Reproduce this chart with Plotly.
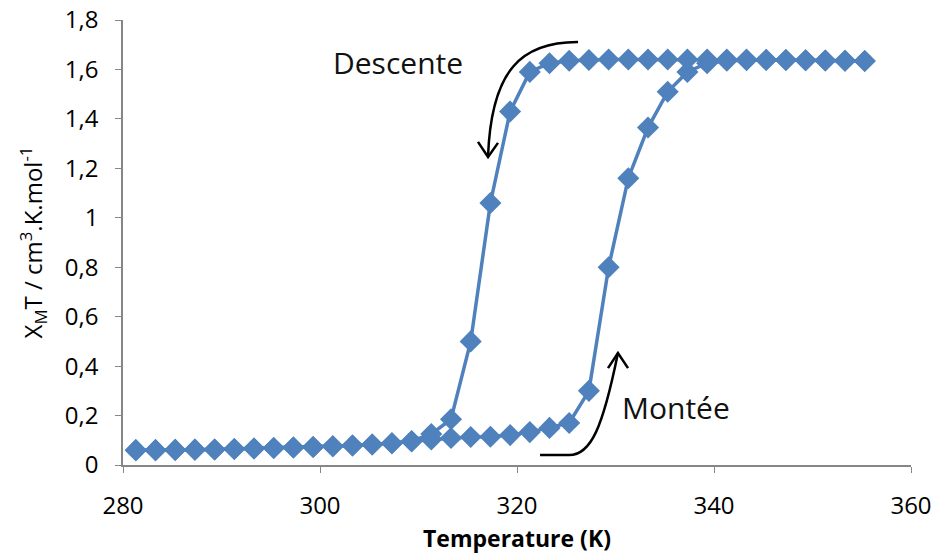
import plotly.graph_objects as go

# ---- data ----
temperature_K = [281.3 + 2 * i for i in range(38)]  # 281.3 ... 355.3

heating_chiMT = [0.060, 0.060, 0.061, 0.062, 0.063, 0.065, 0.067, 0.069, 0.071, 0.073,
                 0.076, 0.079, 0.083, 0.088, 0.095, 0.103, 0.109, 0.113, 0.114, 0.121,
                 0.133, 0.150, 0.170, 0.300, 0.800, 1.160, 1.365, 1.510, 1.590, 1.625,
                 1.635, 1.637, 1.638, 1.638, 1.637, 1.636, 1.635, 1.634]

cooling_chiMT = [0.060, 0.060, 0.061, 0.062, 0.063, 0.065, 0.067, 0.069, 0.071, 0.073,
                 0.076, 0.079, 0.083, 0.088, 0.097, 0.125, 0.185, 0.500, 1.060, 1.430,
                 1.590, 1.625, 1.635, 1.638, 1.640, 1.640, 1.640, 1.640, 1.640, 1.640,
                 1.640, 1.640, 1.639, 1.638, 1.637, 1.636, 1.635, 1.634]

x_ticks = [280, 300, 320, 340, 360]
y_ticks = [0, 0.2, 0.4, 0.6, 0.8, 1.0, 1.2, 1.4, 1.6, 1.8]
y_ticktext = ["0", "0,2", "0,4", "0,6", "0,8", "1", "1,2", "1,4", "1,6", "1,8"]

BLUE = "#4F81BD"
FONT = "Open Sans"

fig = go.Figure()
for name, vals in [("Montée", heating_chiMT), ("Descente", cooling_chiMT)]:
    fig.add_trace(go.Scatter(
        x=temperature_K, y=vals, mode="lines+markers", name=name,
        line=dict(color=BLUE, width=3.5),
        marker=dict(symbol="diamond", size=17, color=BLUE, line=dict(width=0)),
        showlegend=False, cliponaxis=False,
    ))

# curved arrows (data coordinates)
arrow_style = dict(color="black", width=2.5)
shapes = [
    dict(type="path", xref="x", yref="y",
         path="M 326.2 1.711 C 320.5 1.712 317.4 1.6 317.06 1.25",
         line=arrow_style),
    dict(type="path", xref="x", yref="y",
         path="M 316.04 1.307 L 317.06 1.246 L 318.07 1.303",
         line=arrow_style),
    dict(type="path", xref="x", yref="y",
         path="M 322.34 0.040 L 325.3 0.040 C 327.5 0.040 328.7 0.15 330.25 0.453",
         line=arrow_style),
    dict(type="path", xref="x", yref="y",
         path="M 329.24 0.392 L 330.25 0.453 L 331.27 0.392",
         line=arrow_style),
]

annotations = [
    dict(x=307.9, y=1.63, xref="x", yref="y", text="Descente", showarrow=False,
         font=dict(family=FONT, size=30, color="#111111")),
    dict(x=336.1, y=0.231, xref="x", yref="y", text="Montée", showarrow=False,
         font=dict(family=FONT, size=30, color="#111111")),
]

fig.update_layout(
    width=939, height=554,
    margin=dict(l=123, r=28, t=20, b=89),
    paper_bgcolor="white", plot_bgcolor="white",
    font=dict(family=FONT, color="black"),
    shapes=shapes, annotations=annotations,
)

fig.update_xaxes(
    range=[280, 360], tickvals=x_ticks, ticktext=[str(v) for v in x_ticks],
    showgrid=False, zeroline=False, automargin=False,
    showline=True, linecolor="#868686", linewidth=1.5,
    ticks="outside", ticklen=6, tickcolor="#868686",
    tickfont=dict(family=FONT, size=24, color="black"),
    ticklabelstandoff=12,
    title=dict(text="<b>Temperature (K)</b>", font=dict(family=FONT, size=23, color="black")),
)
fig.update_yaxes(
    range=[0, 1.8], tickvals=y_ticks, ticktext=y_ticktext,
    showgrid=False, zeroline=False, automargin=False,
    showline=True, linecolor="#868686", linewidth=1.5,
    ticks="outside", ticklen=6, tickcolor="#868686",
    tickfont=dict(family=FONT, size=24, color="black"),
    ticklabelstandoff=12,
    title=dict(text="X<sub>M</sub>T / cm<sup>3</sup>.K.mol<sup>-1</sup>",
               font=dict(family=FONT, size=24, color="black")),
)

fig.write_html("out.html",
               config={"displayModeBar": False},
               post_script="document.body.style.margin='0';document.body.style.overflow='hidden';")
